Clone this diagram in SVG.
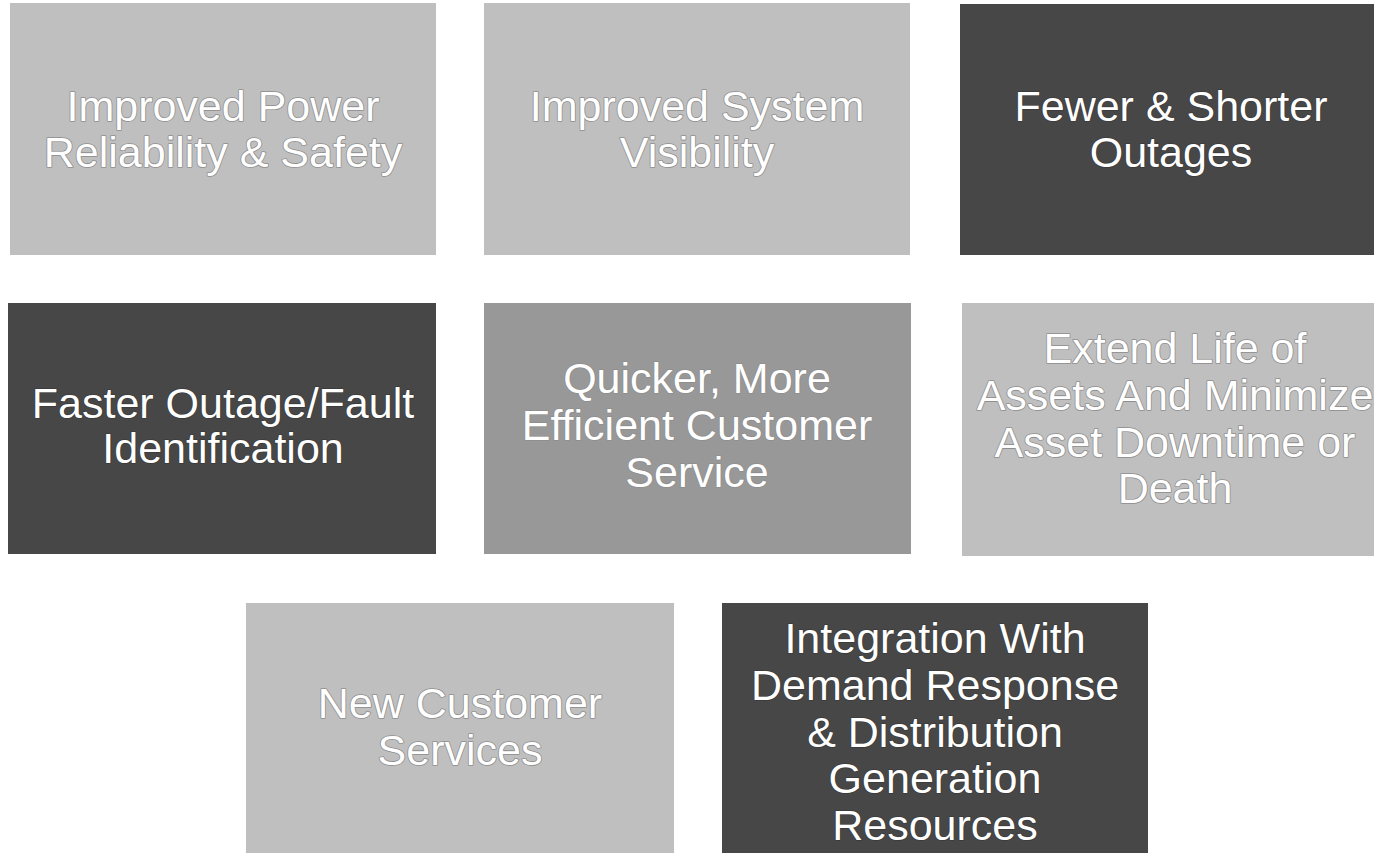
<svg xmlns="http://www.w3.org/2000/svg" width="1374" height="853" viewBox="0 0 1374 853">
  <style>
    .box-light { fill: #bfbfbf; }
    .box-mid { fill: #989898; }
    .box-dark { fill: #474747; }
    .label { font-family: "Liberation Sans", Arial, sans-serif; font-size: 43px; fill: #ffffff; text-anchor: middle; }
    .label-soft { stroke: #8e8e8e; stroke-width: 1.6; paint-order: stroke; stroke-linejoin: round; }
    .label-hard { stroke: #3a3a3a; stroke-width: 1.5; paint-order: stroke; stroke-linejoin: round; }
  </style>
  <rect width="1374" height="853" fill="#ffffff"/>

  <!-- top row -->
  <g id="node-power-reliability">
    <rect class="box-light" x="10" y="3" width="426" height="252"/>
    <text class="label label-soft" x="223" y="121">Improved Power</text>
    <text class="label label-soft" x="223" y="167">Reliability &amp; Safety</text>
  </g>
  <g id="node-system-visibility">
    <rect class="box-light" x="484" y="3" width="426" height="252"/>
    <text class="label label-soft" x="697" y="121">Improved System</text>
    <text class="label label-soft" x="697" y="167">Visibility</text>
  </g>
  <g id="node-fewer-outages">
    <rect class="box-dark" x="960" y="4" width="426" height="251"/>
    <text class="label label-hard" x="1171" y="121">Fewer &amp; Shorter</text>
    <text class="label label-hard" x="1171" y="167">Outages</text>
  </g>

  <!-- middle row -->
  <g id="node-fault-identification">
    <rect class="box-dark" x="8" y="303" width="428" height="251"/>
    <text class="label label-hard" x="223" y="418">Faster Outage/Fault</text>
    <text class="label label-hard" x="223" y="463">Identification</text>
  </g>
  <g id="node-customer-service">
    <rect class="box-mid" x="484" y="303" width="427" height="251"/>
    <text class="label label-soft" x="697" y="393">Quicker, More</text>
    <text class="label label-soft" x="697" y="440">Efficient Customer</text>
    <text class="label label-soft" x="697" y="487">Service</text>
  </g>
  <g id="node-asset-life">
    <rect class="box-light" x="962" y="303" width="426" height="253"/>
    <text class="label label-soft" x="1175" y="363">Extend Life of</text>
    <text class="label label-soft" x="1175" y="410">Assets And Minimize</text>
    <text class="label label-soft" x="1175" y="457">Asset Downtime or</text>
    <text class="label label-soft" x="1175" y="503">Death</text>
  </g>

  <!-- bottom row -->
  <g id="node-new-services">
    <rect class="box-light" x="246" y="603" width="428" height="252"/>
    <text class="label label-soft" x="460" y="718">New Customer</text>
    <text class="label label-soft" x="460" y="765">Services</text>
  </g>
  <g id="node-demand-response">
    <rect class="box-dark" x="722" y="603" width="426" height="252"/>
    <text class="label label-hard" x="935" y="653">Integration With</text>
    <text class="label label-hard" x="935" y="700">Demand Response</text>
    <text class="label label-hard" x="935" y="747">&amp; Distribution</text>
    <text class="label label-hard" x="935" y="793">Generation</text>
    <text class="label label-hard" x="935" y="840">Resources</text>
  </g>
</svg>
